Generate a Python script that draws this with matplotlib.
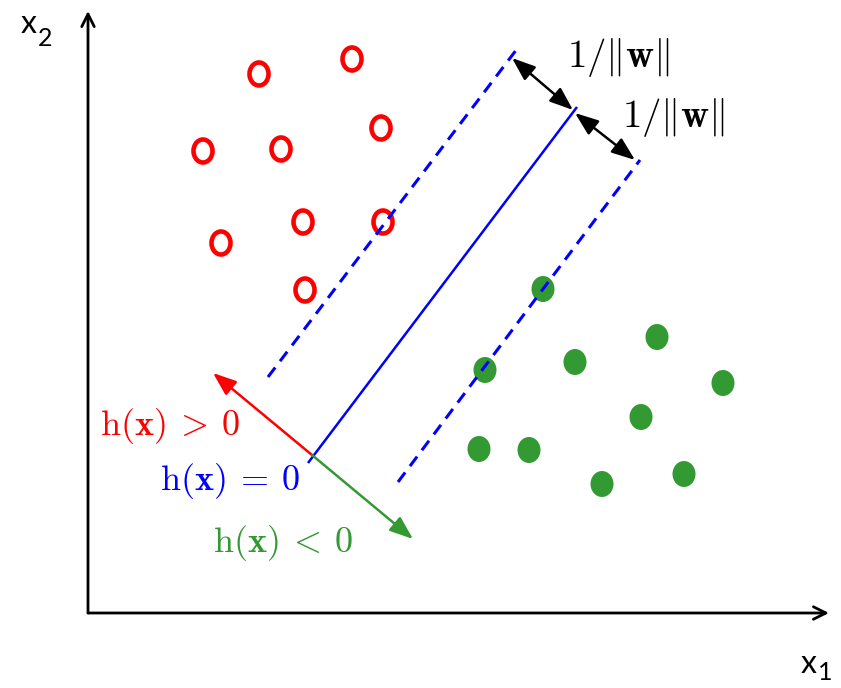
import matplotlib
matplotlib.use("Agg")
import matplotlib.pyplot as plt
from matplotlib.patches import Ellipse

# ---- data (pixel-space coordinates, y downwards) ----
red_x = [259, 352, 381, 203, 281, 303, 383, 221, 305]
red_y = [74, 59, 128, 151, 149, 222, 222, 243, 290]
green_x = [543, 485, 575, 657, 723, 641, 479, 529, 602, 684]
green_y = [289, 370, 362, 337, 383, 417, 449, 450, 484, 474]

hyper_x = [308, 577]
hyper_y = [463, 107]
upper_margin_x = [268, 520]
upper_margin_y = [377, 45]
lower_margin_x = [398, 640]
lower_margin_y = [482, 160]

origin = (312, 455)
pos_tip = (213, 373)
neg_tip = (413, 539)
margin1 = [(512, 58), (573, 110)]
margin2 = [(575, 113), (635, 160)]

axis_origin = (88, 613)
x_axis_end = (829, 613)
y_axis_end = (88, 11)

RED = "#ff0000"
BLUE = "#0000ff"
GREEN = "#339933"

fig = plt.figure(figsize=(8.41, 6.88), dpi=100)
ax = fig.add_axes([0, 0, 1, 1])
ax.set_xlim(0, 841)
ax.set_ylim(688, 0)
ax.axis("off")

# axes arrows
ax.annotate("", xy=x_axis_end, xytext=axis_origin,
            arrowprops=dict(arrowstyle="->,head_length=0.9,head_width=0.45",
                            lw=2.0, color="black", shrinkA=0, shrinkB=0))
ax.annotate("", xy=y_axis_end, xytext=axis_origin,
            arrowprops=dict(arrowstyle="->,head_length=0.9,head_width=0.45",
                            lw=2.0, color="black", shrinkA=0, shrinkB=0))

# hyperplane and margins
ax.plot(hyper_x, hyper_y, color=BLUE, lw=1.8, solid_capstyle="butt")
ax.plot(upper_margin_x, upper_margin_y, color=BLUE, lw=2.2, linestyle=(0, (3.9, 2.6)))
ax.plot(lower_margin_x, lower_margin_y, color=BLUE, lw=2.2, linestyle=(0, (3.9, 2.6)))

# normal arrows
head = "-|>,head_length=0.95,head_width=0.36"
ax.annotate("", xy=pos_tip, xytext=origin,
            arrowprops=dict(arrowstyle=head, lw=1.8, color=RED,
                            shrinkA=0, shrinkB=0, mutation_scale=15))
ax.annotate("", xy=neg_tip, xytext=origin,
            arrowprops=dict(arrowstyle=head, lw=1.8, color=GREEN,
                            shrinkA=0, shrinkB=0, mutation_scale=15))

# margin width arrows
for (a, b) in (margin1, margin2):
    ax.annotate("", xy=b, xytext=a,
                arrowprops=dict(arrowstyle="<|-|>,head_length=0.95,head_width=0.36",
                                lw=1.8, color="black", shrinkA=0, shrinkB=0,
                                mutation_scale=15))

# points
for x, y in zip(red_x, red_y):
    ax.add_patch(Ellipse((x, y), 19, 23, fill=False, edgecolor=RED, lw=3.3))
for x, y in zip(green_x, green_y):
    ax.add_patch(Ellipse((x, y), 23, 26, facecolor=GREEN, edgecolor="none"))

# labels
ax.text(567, 67, r"$1/\|\mathbf{w}\|$", fontsize=28, math_fontfamily="cm",
        ha="left", va="baseline", color="black")
ax.text(622, 127, r"$1/\|\mathbf{w}\|$", fontsize=28, math_fontfamily="cm",
        ha="left", va="baseline", color="black")

ax.text(100, 435, r"$\mathrm{h}(\mathbf{x})\:>\:0$", fontsize=26, math_fontfamily="cm",
        ha="left", va="baseline", color=RED)
ax.text(160, 490, r"$\mathrm{h}(\mathbf{x})\:=\:0$", fontsize=26, math_fontfamily="cm",
        ha="left", va="baseline", color=BLUE)
ax.text(213, 552, r"$\mathrm{h}(\mathbf{x})\:<\:0$", fontsize=26, math_fontfamily="cm",
        ha="left", va="baseline", color=GREEN)

ax.text(21, 33, "x", fontsize=23, family="Lato", ha="left", va="baseline")
ax.text(38, 46, "2", fontsize=18, family="Lato", ha="left", va="baseline")
ax.text(801, 673, "x", fontsize=23, family="Lato", ha="left", va="baseline")
ax.text(818, 680, "1", fontsize=18, family="Lato", ha="left", va="baseline")

fig.savefig("out.png", dpi=100)
